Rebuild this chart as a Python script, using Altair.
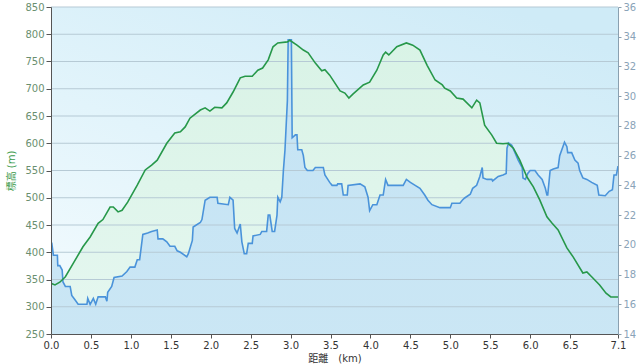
import altair as alt
import pandas as pd

# Elevation profile (left axis, m)
elev_km = [0.00, 0.05, 0.11, 0.18, 0.28, 0.40, 0.49, 0.59, 0.65, 0.74, 0.78, 0.84, 0.89, 0.96,
           1.08, 1.18, 1.26, 1.33, 1.45, 1.55, 1.62, 1.68, 1.74, 1.87, 1.93, 1.99, 2.05, 2.14,
           2.20, 2.28, 2.37, 2.43, 2.52, 2.59, 2.65, 2.72, 2.78, 2.84, 2.96, 2.99, 3.08, 3.16,
           3.22, 3.31, 3.39, 3.43, 3.49, 3.62, 3.68, 3.73, 3.78, 3.91, 3.99, 4.08, 4.16, 4.19,
           4.23, 4.33, 4.45, 4.53, 4.62, 4.71, 4.81, 4.90, 4.93, 5.00, 5.08, 5.16, 5.27, 5.33,
           5.37, 5.43, 5.52, 5.58, 5.66, 5.72, 5.79, 5.87, 5.96, 6.04, 6.12, 6.21, 6.27, 6.35,
           6.46, 6.54, 6.66, 6.71, 6.77, 6.87, 6.95, 7.01, 7.10]
elev_m = [343, 340, 345, 355, 380, 410, 428, 453, 460, 483, 483, 474, 477, 492,
          523, 551, 560, 569, 600, 619, 621, 630, 646, 661, 665, 659, 666, 665,
          674, 694, 720, 723, 723, 734, 738, 753, 777, 784, 786, 789, 780, 771,
          766, 747, 733, 735, 725, 696, 692, 683, 690, 707, 712, 734, 762, 767,
          762, 777, 784, 780, 771, 743, 716, 707, 701, 696, 683, 681, 665, 679,
          674, 633, 615, 600, 599, 600, 591, 569, 538, 520, 496, 465, 454, 441,
          408, 391, 362, 364, 355, 340, 325, 318, 318]

# Second series (right axis)
val_km = [0.00, 0.01, 0.03, 0.08, 0.085, 0.11, 0.14, 0.15, 0.18, 0.24, 0.26, 0.30, 0.34, 0.45,
          0.46, 0.49, 0.53, 0.56, 0.59, 0.68, 0.70, 0.71, 0.76, 0.79, 0.89, 0.95, 0.99, 1.05,
          1.08, 1.11, 1.15, 1.21, 1.26, 1.33, 1.34, 1.40, 1.45, 1.49, 1.55, 1.58, 1.62, 1.70,
          1.72, 1.77, 1.78, 1.87, 1.89, 1.93, 1.99, 2.08, 2.09, 2.22, 2.24, 2.28, 2.30, 2.33,
          2.37, 2.39, 2.42, 2.45, 2.47, 2.52, 2.53, 2.62, 2.64, 2.70, 2.72, 2.74, 2.77, 2.80,
          2.83, 2.84, 2.87, 2.89, 2.91, 2.93, 2.96, 2.97, 3.01, 3.02, 3.06, 3.08, 3.09, 3.14,
          3.16, 3.18, 3.21, 3.28, 3.31, 3.41, 3.43, 3.49, 3.52, 3.58, 3.59, 3.64, 3.66, 3.71,
          3.72, 3.87, 3.93, 3.97, 3.99, 4.03, 4.08, 4.12, 4.16, 4.19, 4.22, 4.41, 4.45, 4.50,
          4.56, 4.62, 4.68, 4.72, 4.77, 4.87, 5.00, 5.02, 5.08, 5.12, 5.15, 5.18, 5.25, 5.28,
          5.33, 5.37, 5.40, 5.41, 5.46, 5.52, 5.53, 5.60, 5.66, 5.70, 5.71, 5.73, 5.77, 5.81,
          5.85, 5.90, 5.91, 5.94, 5.97, 6.00, 6.06, 6.10, 6.15, 6.19, 6.21, 6.22, 6.25, 6.29,
          6.35, 6.37, 6.41, 6.43, 6.46, 6.47, 6.52, 6.56, 6.60, 6.62, 6.66, 6.71, 6.77, 6.84,
          6.86, 6.94, 6.99, 7.03, 7.05, 7.08, 7.10]
val_v = [20.1, 20.1, 19.3, 19.3, 18.6, 18.6, 18.3, 17.5, 17.2, 17.2, 16.6, 16.3, 16.0, 16.0,
         16.4, 16.0, 16.4, 16.0, 16.5, 16.5, 16.2, 16.8, 17.2, 17.8, 17.9, 18.2, 18.5, 18.5,
         19.0, 19.0, 20.7, 20.8, 20.9, 21.0, 20.4, 20.4, 20.2, 19.9, 19.9, 19.6, 19.5, 19.2,
         19.4, 20.3, 21.2, 21.5, 21.7, 23.0, 23.2, 23.2, 22.8, 22.7, 23.2, 23.0, 21.1, 20.8,
         21.4, 20.2, 19.4, 19.4, 20.1, 20.1, 20.6, 20.7, 20.9, 20.9, 22.0, 22.0, 20.9, 20.9,
         22.0, 23.2, 22.9, 23.2, 25.0, 26.4, 29.7, 33.8, 33.8, 27.2, 27.4, 27.4, 26.4, 26.4,
         26.0, 25.2, 25.0, 25.0, 25.2, 25.2, 24.7, 24.2, 24.0, 24.0, 24.1, 24.1, 23.35, 23.35,
         24.0, 24.1, 23.9, 23.2, 22.3, 22.7, 22.7, 23.35, 23.35, 24.4, 24.0, 24.0, 24.4, 24.2,
         24.0, 23.8, 23.35, 23.0, 22.7, 22.5, 22.5, 22.8, 22.8, 22.8, 23.0, 23.15, 23.4, 23.8,
         24.0, 24.6, 25.2, 24.5, 24.4, 24.4, 24.3, 24.6, 24.7, 24.8, 26.5, 26.85, 26.7, 26.2,
         25.7, 25.2, 24.5, 24.4, 24.8, 25.0, 25.0, 24.7, 24.4, 23.8, 23.35, 23.35, 25.0, 25.1,
         25.2, 26.0, 26.6, 26.9, 26.6, 26.2, 26.2, 25.7, 25.5, 25.0, 24.5, 24.4, 24.2, 24.0,
         23.35, 23.3, 23.6, 23.7, 24.7, 24.7, 25.3]

x_ticks = [0.0, 0.5, 1.0, 1.5, 2.0, 2.5, 3.0, 3.5, 4.0, 4.5, 5.0, 5.5, 6.0, 6.5, 7.1]
left_ticks = [250, 300, 350, 400, 450, 500, 550, 600, 650, 700, 750, 800, 850]
right_ticks = [14, 16, 18, 20, 22, 24, 26, 28, 30, 32, 34, 36]

green = pd.DataFrame({"km": elev_km, "v": elev_m})
blue = pd.DataFrame({"km": val_km, "v": val_v})
grid = pd.DataFrame({"v": left_ticks[1:]})
bg = pd.DataFrame({"km": [0.0], "km2": [7.1], "v": [250], "v2": [850]})

FONT = "DejaVu Sans, Noto Sans CJK JP"

xscale = alt.Scale(domain=[0, 7.1], nice=False, zero=False)
xaxis = alt.Axis(values=x_ticks,
                 labelExpr="datum.value > 7 ? '7.1' : format(datum.value, '.1f')",
                 title="距離\u3000(km)", grid=False, tickSize=4, tickColor="#555",
                 domainColor="#555", labelColor="#333", labelFont=FONT, labelFontSize=10,
                 labelPadding=2, titleFont=FONT, titleFontSize=10, titleFontWeight="normal",
                 titleColor="#333", titlePadding=3, zindex=2, labelFlush=False)


def X():
    return alt.X("km:Q", scale=xscale, axis=xaxis)


lscale = alt.Scale(domain=[250, 850], nice=False, zero=False)
rscale = alt.Scale(domain=[14, 36], nice=False, zero=False)

left_axis = alt.Axis(orient="left", values=left_ticks, grid=False, tickSize=5,
                     tickColor="#555", domainColor="#555", labelColor="#6a8f6f",
                     labelFont=FONT, labelFontSize=10, labelPadding=2,
                     title="標高 (m)", titleColor="#3a9a4a", titleFont=FONT,
                     titleFontSize=10, titleFontWeight="normal", titlePadding=8, zindex=2)
right_axis = alt.Axis(orient="right", values=right_ticks, grid=False, tickSize=3,
                      tickColor="#8aa0b0", domainColor="#8aa0b0", labelColor="#8aa3b8",
                      labelFont=FONT, labelFontSize=10, labelPadding=2, title=None, zindex=2)

bg_grad = alt.Gradient(gradient="linear",
                       stops=[alt.GradientStop(color="#cfebf7", offset=0),
                              alt.GradientStop(color="#e2f4fb", offset=0.55),
                              alt.GradientStop(color="#f3fbfe", offset=1)],
                       x1=0.8, y1=0, x2=0.1, y2=1)
green_grad = alt.Gradient(gradient="linear",
                          stops=[alt.GradientStop(color="#d9f3e6", offset=0),
                                 alt.GradientStop(color="#ebf9f5", offset=1)],
                          x1=0, y1=0, x2=0, y2=1)
blue_grad = alt.Gradient(gradient="linear",
                         stops=[alt.GradientStop(color="#c4e3f4", offset=0),
                                alt.GradientStop(color="#cfe9f5", offset=1)],
                         x1=0, y1=0, x2=0, y2=1)

bg_layer = alt.Chart(bg).mark_rect(fill=bg_grad).encode(
    x=X(), x2="km2", y=alt.Y("v:Q", scale=lscale, axis=None), y2="v2")

green_area = alt.Chart(green).mark_area(fill=green_grad, clip=True).encode(
    x=X(), y=alt.Y("v:Q", scale=lscale, axis=None))

blue_area = alt.Chart(blue).mark_area(fill=blue_grad, clip=True).encode(
    x=X(), y=alt.Y("v:Q", scale=rscale, axis=None))

grid_layer = alt.Chart(grid).mark_rule(color="#b6cad5", strokeWidth=1.2).encode(
    y=alt.Y("v:Q", scale=lscale, axis=None))

blue_line = alt.Chart(blue).mark_line(color="#4a93da", strokeWidth=1.6, clip=True).encode(
    x=X(), y=alt.Y("v:Q", scale=rscale, axis=right_axis))

green_line = alt.Chart(green).mark_line(color="#27984a", strokeWidth=1.6, clip=True).encode(
    x=X(), y=alt.Y("v:Q", scale=lscale, axis=left_axis))

chart = alt.layer(bg_layer, green_area, blue_area, grid_layer, blue_line, green_line).resolve_scale(
    y="independent"
).properties(
    width=567, height=327,
    padding={"left": 51, "top": 7, "right": 22, "bottom": 30},
    autosize=alt.AutoSizeParams(type="none"),
    background="white",
).configure_view(stroke=None)

chart.save("out.html", embed_options={"renderer": "svg", "actions": False})
